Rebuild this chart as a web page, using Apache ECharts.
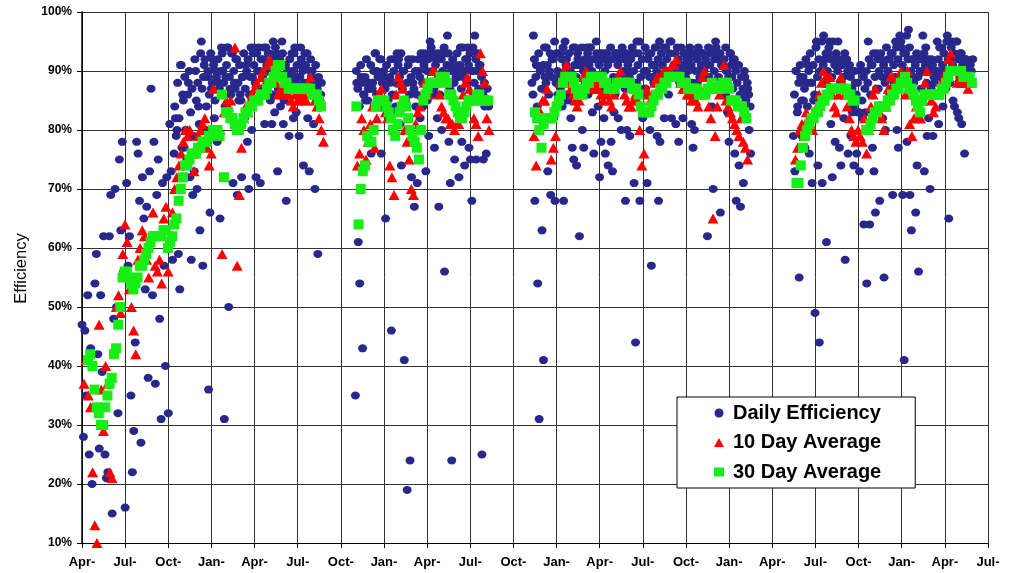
<!DOCTYPE html>
<html>
<head>
<meta charset="utf-8">
<title>Efficiency</title>
<script src="https://cdn.jsdelivr.net/npm/echarts@6/dist/echarts.min.js"></script>
<style>
  html, body { margin: 0; padding: 0; background: #fff; }
  #chart { width: 1019px; height: 573px; }
</style>
</head>
<body>
<div id="chart"></div>
<script>
// Quarter labels along the time axis (axis runs in months from the first April)
const quarterLabels = ['Apr-', 'Jul-', 'Oct-', 'Jan-', 'Apr-', 'Jul-', 'Oct-', 'Jan-', 'Apr-', 'Jul-', 'Oct-',
  'Jan-', 'Apr-', 'Jul-', 'Oct-', 'Jan-', 'Apr-', 'Jul-', 'Oct-', 'Jan-', 'Apr-', 'Jul-'];

// Sampling interval (months) of the plotted readings
const DAILY_STEP = 0.1;
const AVG_STEP = 0.15;

// Daily efficiency (%), one array per operating run
const daily1 = [
  47, 28, 46, 35, 52, 25, 43, 20, 33, 54,
  59, 42, 26, 52, 39, 62, 25, 21, 22, 62,
  69, 15, 48, 70, 50, 32, 75, 63, 78, 56,
  16, 71, 57, 62, 35, 22, 29, 44, 78, 76,
  68, 27, 72, 65, 53, 67, 38, 73, 87, 52,
  78, 37, 69, 75, 48, 31, 71, 57, 40, 72,
  32, 81, 73, 58, 76, 82, 80, 59, 53, 91,
  86, 77, 80, 75, 88, 72, 58, 69, 73, 90,
  70, 84, 63, 95, 57, 91, 80, 89, 36, 66,
  87, 92, 82, 90, 78, 88, 65, 94, 90, 31,
  89, 94, 50, 87, 93, 71, 88, 92, 69, 85,
  86, 72, 89, 82, 91, 78, 70, 89, 80, 93,
  94, 72, 90, 94, 71, 87, 92, 81, 94, 90,
  93, 85, 81, 95, 83, 93, 73, 91, 84, 95,
  81, 91, 68, 90, 79, 89, 93, 82, 94, 83,
  89, 79, 94, 91, 74, 93, 88, 82, 73, 92,
  90, 81, 70, 87, 59, 88, 86
];
const daily2 = [
  35, 88, 61, 54, 89, 43, 86, 85, 88, 87,
  87, 76, 88, 84, 93, 90, 86, 92, 76, 89,
  89, 65, 84, 82, 89, 46, 80, 92, 84, 93,
  92, 81, 74, 90, 41, 84, 19, 92, 24, 72,
  88, 67, 84, 71, 90, 82, 92, 84, 93, 73,
  85, 79, 95, 93, 86, 77, 92, 82, 67, 93,
  80, 88, 56, 93, 96, 78, 71, 24, 91, 75,
  89, 90, 72, 94, 78, 89, 74, 92, 94, 77,
  75, 68, 90, 96, 75, 93, 91, 85, 25, 75,
  84, 76
];
const daily3 = [
  88, 96, 68, 91, 54, 31, 90, 63, 41, 89,
  94, 73, 90, 69, 92, 82, 68, 93, 86, 89,
  93, 84, 68, 95, 92, 85, 90, 82, 77, 75,
  94, 74, 92, 62, 91, 80, 77, 88, 94, 86,
  94, 92, 83, 76, 92, 93, 84, 72, 78, 93,
  82, 76, 93, 74, 92, 78, 73, 83, 93, 88,
  82, 93, 80, 89, 92, 68, 80, 90, 79, 93,
  88, 71, 44, 95, 93, 68, 86, 82, 90, 87,
  71, 93, 80, 57, 89, 91, 94, 79, 68, 78,
  93, 88, 82, 94, 90, 86, 95, 82, 89, 91,
  81, 94, 78, 90, 88, 82, 93, 91, 87, 92,
  93, 81, 77, 80, 93, 88, 90, 86, 93, 89,
  91, 86, 62, 89, 93, 84, 70, 92, 94, 87,
  93, 66, 88, 91, 86, 90, 83, 78, 93, 89,
  92, 76, 68, 91, 74, 67, 86, 71, 89, 84, 87, 80, 76
];
const daily4 = [
  79, 73, 90, 84, 55, 89, 79, 85, 77, 88,
  91, 76, 88, 71, 85, 49, 95, 74, 44, 90,
  71, 96, 92, 61, 93, 95, 81, 72, 92, 78,
  91, 95, 77, 74, 92, 82, 58, 92, 76, 91,
  79, 83, 74, 88, 76, 83, 73, 90, 82, 64,
  83, 54, 95, 64, 91, 77, 73, 66, 93, 87,
  68, 92, 82, 55, 80, 89, 92, 86, 93, 69,
  88, 95, 80, 77, 96, 94, 69, 41, 93, 78,
  97, 69, 63, 92, 89, 66, 74, 56, 90, 92,
  96, 73, 94, 79, 82, 70, 92, 79, 88, 86,
  95, 81, 89, 94, 84, 90, 87, 96, 65, 92,
  95, 85, 84, 95, 83, 82, 93, 81, 92, 76,
  92, 89, 88, 91
];

// Daily efficiency (%), in-between days of the same runs
const daily1b = [
  84, 79, 88, 82, 91, 77, 85, 89, 80, 86,
  90, 83, 87, 79, 92, 85, 88, 81, 93, 87,
  89, 92, 84, 90, 86, 93, 88, 91, 85, 89,
  92, 87, 90, 93, 88, 84, 91, 94, 89, 86,
  93, 90, 87, 92, 88, 91, 85, 89, 93, 87,
  90, 92, 86, 94, 89, 91, 88, 93, 85, 90,
  92, 89, 94, 87, 91, 93, 88, 90, 86, 92,
  94, 90, 87, 92, 89, 93, 85, 91, 88, 90,
  92, 87, 90, 93, 88, 91, 86, 89, 92, 90,
  88, 91, 93, 87, 90, 89, 86, 88, 91, 87,
  89, 85, 88
];
const daily2b = [
  90, 87, 84, 91, 88, 86, 89, 92, 85, 88,
  91, 87, 90, 93, 86, 89, 84, 92, 88, 90,
  87, 91, 85, 88, 92, 86, 90, 88, 83, 91,
  89, 93, 87, 90, 85, 88, 91, 86, 89, 92,
  87, 90, 86, 92, 89, 93, 88, 91, 86, 90,
  92, 88, 94, 90, 87, 91, 93, 89, 86, 92,
  90, 94, 88, 91, 93, 87, 90, 92, 88, 91,
  93, 89, 91, 87, 94, 90, 92, 88, 91, 93,
  90, 94, 88, 92, 90, 87, 91, 89, 86, 88,
  85, 87, 84
];
const daily3b = [
  86, 92, 89, 84, 93, 90, 87, 91, 94, 88,
  91, 86, 93, 89, 92, 95, 88, 90, 93, 87,
  92, 94, 89, 91, 86, 93, 90, 88, 94, 91,
  89, 93, 91, 87, 94, 90, 92, 88, 93, 91,
  94, 90, 88, 92, 95, 89, 91, 93, 87, 92,
  90, 93, 91, 88, 94, 92, 89, 86, 93, 91,
  92, 88, 94, 90, 87, 93, 91, 89, 92, 94,
  90, 93, 88, 91, 95, 89, 92, 87, 94, 90,
  92, 89, 93, 91, 88, 94, 90, 92, 95, 89,
  91, 94, 88, 92, 90, 93, 95, 89, 91, 93,
  90, 92, 88, 94, 91, 93, 89, 92, 90, 94,
  91, 88, 93, 90, 92, 94, 89, 91, 93, 90,
  92, 89, 94, 91, 88, 93, 90, 95, 92, 89,
  93, 91, 88, 92, 94, 90, 89, 93, 91, 87,
  92, 90, 88, 91, 86, 89, 87, 90, 85, 88,
  86, 84
];
const daily4b = [
  86, 90, 83, 88, 91, 85, 89, 87, 92, 84,
  90, 93, 88, 91, 86, 94, 89, 92, 90, 95,
  91, 88, 93, 90, 94, 92, 89, 95, 91, 93,
  90, 92, 88, 91, 89, 93, 87, 90, 86, 89,
  87, 84, 90, 86, 88, 83, 91, 85, 89, 87,
  90, 88, 92, 86, 91, 93, 89, 87, 92, 90,
  93, 89, 91, 88, 94, 90, 92, 87, 93, 91,
  89, 94, 92, 88, 95, 91, 93, 90, 96, 92,
  94, 90, 92, 88, 91, 93, 89, 92, 87, 90,
  93, 91, 88, 92, 90, 87, 91, 89, 86, 90,
  92, 94, 89, 91, 93, 90, 95, 92, 88, 94,
  91, 93, 90, 95, 92, 89, 93, 91, 90, 92,
  89, 91, 88, 90, 92
];

// 10 day rolling average (%)
const ten1 = [
  37, 41, 35, 33, 22, 13, 10, 47, 36, 29,
  40, 37, 22, 21, 43, 50, 52, 49, 59, 64,
  61, 53, 50, 46, 42, 58, 60, 63, 62, 58,
  55, 62, 66, 57, 56, 58, 54, 65, 67, 56,
  62, 66, 70, 72, 74, 76, 78, 80, 79, 80,
  76, 73, 77, 79, 80, 81, 82, 77, 74, 76,
  87, 80, 79, 80, 59, 83, 85, 84, 85, 82,
  94, 57, 69, 77, 82, 84, 83, 85, 86, 87,
  88, 86, 89, 90, 88, 91, 92, 91, 89, 88,
  86, 87, 86, 87, 86, 86, 85, 84, 86, 85,
  86, 85, 86, 85, 88, 89, 87, 85, 84, 82,
  80, 78
];
const ten2 = [
  74, 76, 82, 80, 75, 78, 81, 84, 77, 82,
  86, 87, 84, 83, 82, 74, 72, 69, 86, 89,
  88, 87, 80, 78, 75, 70, 69, 81, 83, 84,
  86, 88, 87, 86, 88, 90, 90, 89, 86, 84,
  83, 82, 82, 81, 81, 80, 81, 81, 83, 86,
  88, 89, 87, 86, 82, 81, 79, 93, 90, 88,
  82, 80
];
const ten3 = [
  79, 74, 82, 83, 85, 85, 87, 82, 75, 77,
  79, 85, 88, 89, 90, 91, 88, 87, 86, 85,
  84, 85, 87, 89, 90, 89, 88, 87, 87, 88,
  87, 86, 85, 86, 86, 85, 84, 86, 88, 89,
  90, 88, 86, 85, 84, 84, 85, 86, 85, 80,
  74, 76, 87, 86, 85, 86, 88, 89, 88, 89,
  90, 90, 89, 90, 91, 91, 92, 89, 88, 87,
  87, 86, 86, 85, 86, 85, 84, 87, 89, 90,
  87, 84, 82, 65, 79, 84, 86, 88, 91, 85,
  84, 83, 82, 81, 80, 79, 82, 78, 77, 75
];
const ten4 = [
  75, 77, 80, 81, 79, 83, 82, 81, 80, 83,
  84, 86, 88, 90, 89, 88, 89, 86, 84, 83,
  86, 89, 88, 86, 84, 82, 80, 79, 78, 80,
  79, 78, 82, 76, 80, 84, 86, 87, 84, 83,
  82, 80, 84, 87, 89, 89, 88, 88, 89, 90,
  88, 86, 90, 81, 79, 82, 84, 82, 82, 85,
  88, 90, 86, 85, 83, 84, 86, 87, 88, 89,
  90, 92, 93, 91, 90, 88, 89, 88, 89, 88,
  87, 88
];

// 30 day rolling average (%)
const thirty1 = [
  41, 42, 40, 36, 33, 32, 30, 30, 33, 35,
  37, 38, 42, 43, 47, 50, 55, 56, 56, 55,
  54, 53, 54, 55, 57, 57, 58, 59, 60, 61,
  62, 62, 62, 62, 62, 63, 63, 60, 61, 62,
  64, 65, 68, 70, 72, 74, 74, 75, 76, 76,
  76, 77, 77, 78, 78, 78, 79, 79, 80, 80,
  80, 79, 86, 72, 83, 83, 82, 82, 81, 80,
  80, 81, 82, 83, 83, 84, 84, 85, 85, 85,
  86, 86, 86, 87, 88, 88, 89, 90, 91, 91,
  89, 88, 88, 87, 87, 87, 87, 87, 87, 87,
  87, 87, 87, 87, 86, 86, 86, 85, 84
];
const thirty2 = [
  84, 64, 70, 73, 74, 79, 78, 78, 80, 84,
  85, 85, 85, 85, 84, 83, 82, 80, 79, 81,
  83, 84, 85, 84, 82, 80, 79, 78, 77, 75,
  80, 85, 86, 87, 88, 88, 88, 88, 88, 89,
  89, 89, 88, 86, 86, 85, 84, 83, 82, 82,
  83, 84, 85, 85, 85, 85, 86, 86, 85, 85,
  85, 85
];
const thirty3 = [
  83, 82, 80, 77, 81, 82, 82, 82, 82, 83,
  84, 85, 86, 88, 89, 89, 89, 89, 88, 87,
  86, 86, 86, 87, 88, 88, 89, 89, 89, 89,
  89, 89, 88, 88, 87, 87, 87, 87, 88, 88,
  88, 88, 88, 88, 88, 87, 87, 87, 86, 84,
  83, 83, 83, 83, 84, 85, 86, 86, 87, 87,
  88, 88, 89, 89, 89, 89, 89, 89, 88, 88,
  88, 87, 87, 87, 87, 87, 86, 86, 86, 86,
  87, 87, 88, 87, 87, 87, 87, 88, 88, 88,
  87, 85, 85, 85, 84, 84, 84, 83, 82
];
const thirty4a = [
  71, 71, 74, 77, 79, 80, 81, 82, 82, 83,
  83, 84, 85, 85, 86, 86, 87, 87, 87, 87,
  87, 87, 87, 87, 86, 86, 85, 85
];
const thirty4b = [
  80, 80, 81, 82, 83, 83, 84, 84, 84, 84,
  85, 85, 86, 86, 87, 87, 88, 88, 89, 88,
  87, 87, 86, 85, 84, 83, 85, 86, 86, 86,
  86, 86, 86, 86, 86, 87, 87, 88, 89, 90,
  90, 90, 90, 90, 90, 89, 89, 89, 89, 88
];

// First sample of each run, in months after the first April
const dailyStarts = [0.0, 19.01, 31.29, 49.47];
const dailyStartsB = [6.45, 19.08, 31.36, 49.54];
const tenStarts = [0.14, 19.15, 31.43, 49.61];
const thirtyStarts = [0.42, 19.08, 31.5, 49.68, 54.53];

function toPoints(starts, runs, step) {
  const pts = [];
  runs.forEach((vals, r) => {
    vals.forEach((v, i) => pts.push([+(starts[r] + i * step).toFixed(3), v]));
  });
  return pts;
}

const dailyPts = toPoints(dailyStarts, [daily1, daily2, daily3, daily4], DAILY_STEP)
  .concat(toPoints(dailyStartsB, [daily1b, daily2b, daily3b, daily4b], DAILY_STEP));
const tenPts = toPoints(tenStarts, [ten1, ten2, ten3, ten4], AVG_STEP);
const thirtyPts = toPoints(thirtyStarts, [thirty1, thirty2, thirty3, thirty4a, thirty4b], AVG_STEP);

const FONT = '"Liberation Sans", Arial, sans-serif';
const chart = echarts.init(document.getElementById('chart'), null, { renderer: 'canvas' });

chart.setOption({
  animation: false,
  backgroundColor: '#ffffff',
  grid: { left: 82, right: 31, top: 12, bottom: 30, containLabel: false },
  legend: {
    orient: 'vertical',
    left: 677,
    top: 397,
    padding: [6, 34, 6, 37],
    itemGap: 9.5,
    itemWidth: 10,
    itemHeight: 9,
    backgroundColor: '#ffffff',
    borderColor: '#000000',
    borderWidth: 1,
    textStyle: {
      fontFamily: FONT, fontSize: 20, fontWeight: 'bold', color: '#000',
      lineHeight: 20, padding: [0, 0, 0, 4]
    },
    data: ['Daily Efficiency', '10 Day Average', '30 Day Average']
  },
  xAxis: {
    type: 'value',
    min: 0,
    max: 63,
    interval: 3,
    axisLine: { show: true, lineStyle: { color: '#000', width: 1 } },
    axisTick: { show: true, length: 5, lineStyle: { color: '#000' } },
    axisLabel: {
      margin: 13,
      fontFamily: FONT, fontSize: 13, fontWeight: 'bold', color: '#000',
      formatter: v => quarterLabels[Math.round(v / 3)] || ''
    },
    splitLine: { show: true, lineStyle: { color: '#333', width: 1 } }
  },
  yAxis: {
    type: 'value',
    min: 10,
    max: 100,
    interval: 10,
    name: 'Efficiency',
    nameLocation: 'middle',
    nameRotate: 90,
    nameGap: 45,
    nameTextStyle: { fontFamily: FONT, fontSize: 16.5, color: '#000', padding: [0, 0, 0, 18] },
    axisLine: { show: true, lineStyle: { color: '#000', width: 1.5 } },
    axisTick: { show: true, length: 5, lineStyle: { color: '#000' } },
    axisLabel: {
      margin: 10,
      fontFamily: FONT, fontSize: 12, fontWeight: 'bold', color: '#000',
      formatter: '{value}%'
    },
    splitLine: { show: true, lineStyle: { color: '#333', width: 1 } }
  },
  series: [
    {
      name: 'Daily Efficiency',
      type: 'scatter',
      symbol: 'circle',
      symbolSize: [9, 8],
      itemStyle: { color: '#28288c', opacity: 1 },
      data: dailyPts,
      z: 2
    },
    {
      name: '10 Day Average',
      type: 'scatter',
      symbol: 'triangle',
      symbolSize: [11, 10],
      itemStyle: { color: '#ff0000', opacity: 1 },
      data: tenPts,
      z: 3
    },
    {
      name: '30 Day Average',
      type: 'scatter',
      symbol: 'rect',
      symbolSize: 10,
      itemStyle: { color: '#16ee16', opacity: 1 },
      data: thirtyPts,
      z: 4
    }
  ]
});
</script>
</body>
</html>
